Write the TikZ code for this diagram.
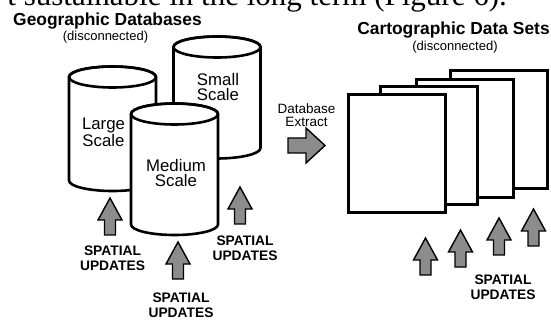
\documentclass[tikz,border=0pt]{standalone}
\usepackage{fontspec}
\setmainfont{Liberation Sans}
\newfontfamily\bodyserif{Liberation Serif}
\definecolor{arrowgray}{RGB}{140,140,140}
\tikzset{
 cylline/.style={line width=2.6pt, fill=white, draw=black, line join=round},
 pagebox/.style={draw=black, fill=white, line width=2.8pt, line join=miter, minimum width=97pt, minimum height=118pt, inner sep=0pt},
 blockarrow/.style={draw=black, fill=arrowgray, line width=1.4pt, line join=miter},
 headtext/.style={font=\bfseries\fontsize{17.4}{20}\selectfont, inner sep=0pt, anchor=base},
 subtext/.style={font=\fontsize{13}{15}\selectfont, inner sep=0pt, anchor=base},
 cyltext/.style={font=\fontsize{16.8}{15.5}\selectfont, inner sep=0pt, anchor=base, align=center},
 updtext/.style={font=\bfseries\fontsize{13.8}{15}\selectfont, inner sep=0pt, anchor=base, align=center},
 extracttext/.style={font=\fontsize{13.5}{13.4}\selectfont, inner sep=0pt, anchor=base, align=center},
 pics/uparrow/.style={code={\draw[blockarrow] (0,0) -- (12,22) -- (5.5,22) -- (5.5,37) -- (-5.5,37) -- (-5.5,22) -- (-12,22) -- cycle;}},
 pics/rightarrow/.style={code={\draw[blockarrow] (0,0) -- (-19,-17.5) -- (-19,-7.5) -- (-37,-7.5) -- (-37,7.5) -- (-19,7.5) -- (-19,17.5) -- cycle;}},
}
\newcommand\dbcylinder[3]{%
 \filldraw[cylline] ({#1-43.5},#2) -- ({#1-43.5},#3) arc[start angle=180,end angle=360,x radius=43.5pt,y radius=10.5pt] -- ({#1+43.5},#2) arc[start angle=0,end angle=180,x radius=43.5pt,y radius=10.5pt] -- cycle;
 \draw[cylline, fill=none] (#1,#2) ellipse[x radius=43.5pt, y radius=10.5pt];}
\begin{document}
\begin{tikzpicture}[x=1pt,y=-1pt]
\useasboundingbox (0,0) rectangle (551,320);
\fill[white] (0,0) rectangle (551,320);
% fragment of running text above the figure
\node[font=\bodyserif\fontsize{31}{36}\selectfont, anchor=base east, inner sep=0pt] (fragment) at (507,6) {t sustainable in the long term (Figure 6).};
% titles
\node[headtext] (geotitle) at (107.5,25.5) {Geographic Databases};
\node[subtext] (geosub) at (105.5,40.5) {(disconnected)};
\node[headtext] (cartotitle) at (453.5,35) {Cartographic Data Sets};
\node[subtext] (cartosub) at (455,51) {(disconnected)};
% cylinders
\dbcylinder{217}{47}{148}
\node[cyltext] (smalltxt) at (218,101) {Small\\Scale};
\dbcylinder{112.5}{77}{180.5}
\node[cyltext] (largetxt) at (103.5,146.5) {Large\\Scale};
\dbcylinder{174.5}{114}{224.5}
\node[cyltext] (mediumtxt) at (176,186.7) {Medium\\Scale};
% update arrows, left
\pic at (110,198) {uparrow};
\pic at (178,242) {uparrow};
\pic at (240,187) {uparrow};
\node[updtext] (upd1) at (112.5,270) {SPATIAL\\UPDATES};
\node[updtext] (upd2) at (181,317.7) {SPATIAL\\UPDATES};
\node[updtext] (upd3) at (245,260.5) {SPATIAL\\UPDATES};
% extract
\node[extracttext] (extract) at (306.5,126.7) {Database\\Extract};
\pic at (325,145.5) {rightarrow};
% pages
\node[pagebox] (page4) at (499,129.5) {};
\node[pagebox] (page3) at (465,138.5) {};
\node[pagebox] (page2) at (429,145.5) {};
\node[pagebox] (page1) at (397,153.5) {};
% update arrows, right
\pic at (425.5,238) {uparrow};
\pic at (460.5,230) {uparrow};
\pic at (499,218) {uparrow};
\pic at (533.5,209) {uparrow};
\node[updtext] (upd4) at (503,299.3) {SPATIAL\\UPDATES};
\end{tikzpicture}
\end{document}
